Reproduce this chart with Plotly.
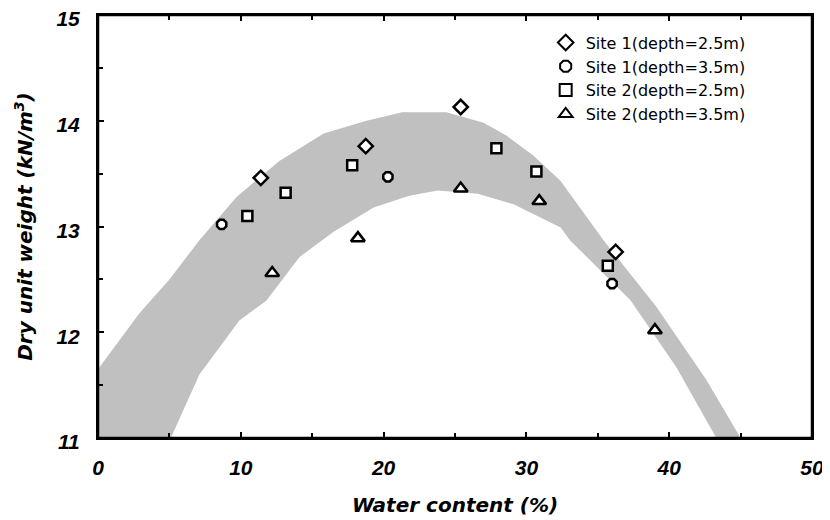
import plotly.graph_objects as go

# Band (envelope)
band_upper_x = [0, 2.9, 5.0, 7.1, 9.7, 12.7, 15.8, 18.8, 21.3, 24.4, 27.0, 28.6, 30.5, 32.4, 35.4, 39.1, 42.6, 45.0]
band_upper_y = [11.65, 12.18, 12.5, 12.87, 13.28, 13.62, 13.88, 14.0, 14.08, 14.08, 13.98, 13.86, 13.67, 13.43, 12.87, 12.24, 11.55, 11.0]
band_lower_x = [0, 5.1, 7.1, 9.9, 11.8, 14.1, 16.5, 19.3, 21.8, 23.8, 26.6, 29.1, 30.5, 32.4, 33.05, 37.3, 40.5, 43.3]
band_lower_y = [11.0, 11.0, 11.6, 12.11, 12.30, 12.71, 12.95, 13.18, 13.29, 13.34, 13.31, 13.21, 13.12, 12.99, 12.87, 12.30, 11.67, 11.0]

site1_25_x = [11.4, 18.75, 25.4, 36.25]
site1_25_y = [13.46, 13.76, 14.13, 12.76]
site1_35_x = [8.66, 20.3, 36.0]
site1_35_y = [13.02, 13.47, 12.46]
site2_25_x = [10.46, 13.14, 17.8, 27.9, 30.7, 35.7]
site2_25_y = [13.10, 13.32, 13.58, 13.74, 13.52, 12.63]
site2_35_x = [12.2, 18.2, 25.4, 30.9, 39.0]
site2_35_y = [12.56, 12.89, 13.36, 13.24, 12.02]

x_ticks = [0, 10, 20, 30, 40, 50]
y_ticks = [11, 12, 13, 14, 15]

FONT = 'Liberation Sans, Arial'

fig = go.Figure()
fig.add_trace(go.Scatter(
    x=band_upper_x + band_lower_x[::-1],
    y=band_upper_y + band_lower_y[::-1],
    fill='toself', fillcolor='#c0c0c0', mode='lines',
    line=dict(width=0, color='#c0c0c0'), showlegend=False, hoverinfo='skip'))

series = [
    ("Site 1(depth=2.5m)", site1_25_x, site1_25_y, 'diamond', 11),
    ("Site 1(depth=3.5m)", site1_35_x, site1_35_y, 'octagon', 10),
    ("Site 2(depth=2.5m)", site2_25_x, site2_25_y, 'square', 10),
    ("Site 2(depth=3.5m)", site2_35_x, site2_35_y, 'triangle-up', 12),
]
for name, xs, ys, sym, sz in series:
    fig.add_trace(go.Scatter(
        x=xs, y=ys, mode='markers', name=name,
        marker=dict(symbol=sym, size=sz, color='#ffffff', line=dict(width=2.5, color='#000000'))))

tick_font = dict(family=FONT, size=21, color='#000000')
title_font = dict(family='DejaVu Sans', size=20, color='#000000')
fig.update_layout(
    width=830, height=520,
    margin=dict(l=90, r=26, t=7, b=90),
    paper_bgcolor='#ffffff', plot_bgcolor='#ffffff',
    font=dict(family=FONT, color='#000000'),
    legend=dict(x=0.627, y=0.975, xanchor='left', yanchor='top',
                font=dict(size=16, family='DejaVu Sans', color='#000000'),
                bgcolor='rgba(0,0,0,0)', tracegroupgap=0, itemsizing='constant'),
    xaxis=dict(range=[0, 50], tickvals=x_ticks, ticktext=[f"<b><i>{v}</i></b>" for v in x_ticks],
               ticks='inside', ticklen=6, tickwidth=1.5, tickcolor='#000000',
               minor=dict(dtick=5, ticks='inside', ticklen=5, tickwidth=1.5, tickcolor='#000000'),
               showgrid=False, zeroline=False, showline=True, linewidth=2, linecolor='#000000',
               mirror='ticks', tickfont=tick_font, ticklabelstandoff=10, automargin=False,
               ticklabeloverflow='allow', layer='above traces',
               title=dict(text="<b><i>Water content (%)</i></b>", font=title_font, standoff=20)),
    yaxis=dict(range=[11, 15], tickvals=y_ticks, ticktext=[f"<b><i>{v}</i></b>" for v in y_ticks],
               ticks='inside', ticklen=6, tickwidth=1.5, tickcolor='#000000',
               minor=dict(dtick=0.5, ticks='inside', ticklen=5, tickwidth=1.5, tickcolor='#000000'),
               showgrid=False, zeroline=False, showline=True, linewidth=2, linecolor='#000000',
               mirror=True, tickfont=tick_font, ticklabelstandoff=12, ticklabelshift=4,
               automargin=False, ticklabeloverflow='allow', layer='above traces',
               title=dict(text="<b><i>Dry unit weight (kN/m<sup>3</sup>)</i></b>", font=title_font, standoff=18)),
    shapes=[dict(type='line', xref='paper', yref='paper', x0=0, x1=0, y0=0, y1=1,
                 line=dict(color='#000000', width=2.5), layer='above'),
            dict(type='line', xref='paper', yref='paper', x0=0, x1=1, y0=0, y1=0,
                 line=dict(color='#000000', width=2.5), layer='above'),
            dict(type='line', xref='paper', yref='paper', x0=0, x1=1, y0=1, y1=1,
                 line=dict(color='#000000', width=2.5), layer='above'),
            dict(type='line', xref='paper', yref='paper', x0=1, x1=1, y0=0, y1=1,
                 line=dict(color='#000000', width=2.5), layer='above')],
)
fig.write_html("out.html")
